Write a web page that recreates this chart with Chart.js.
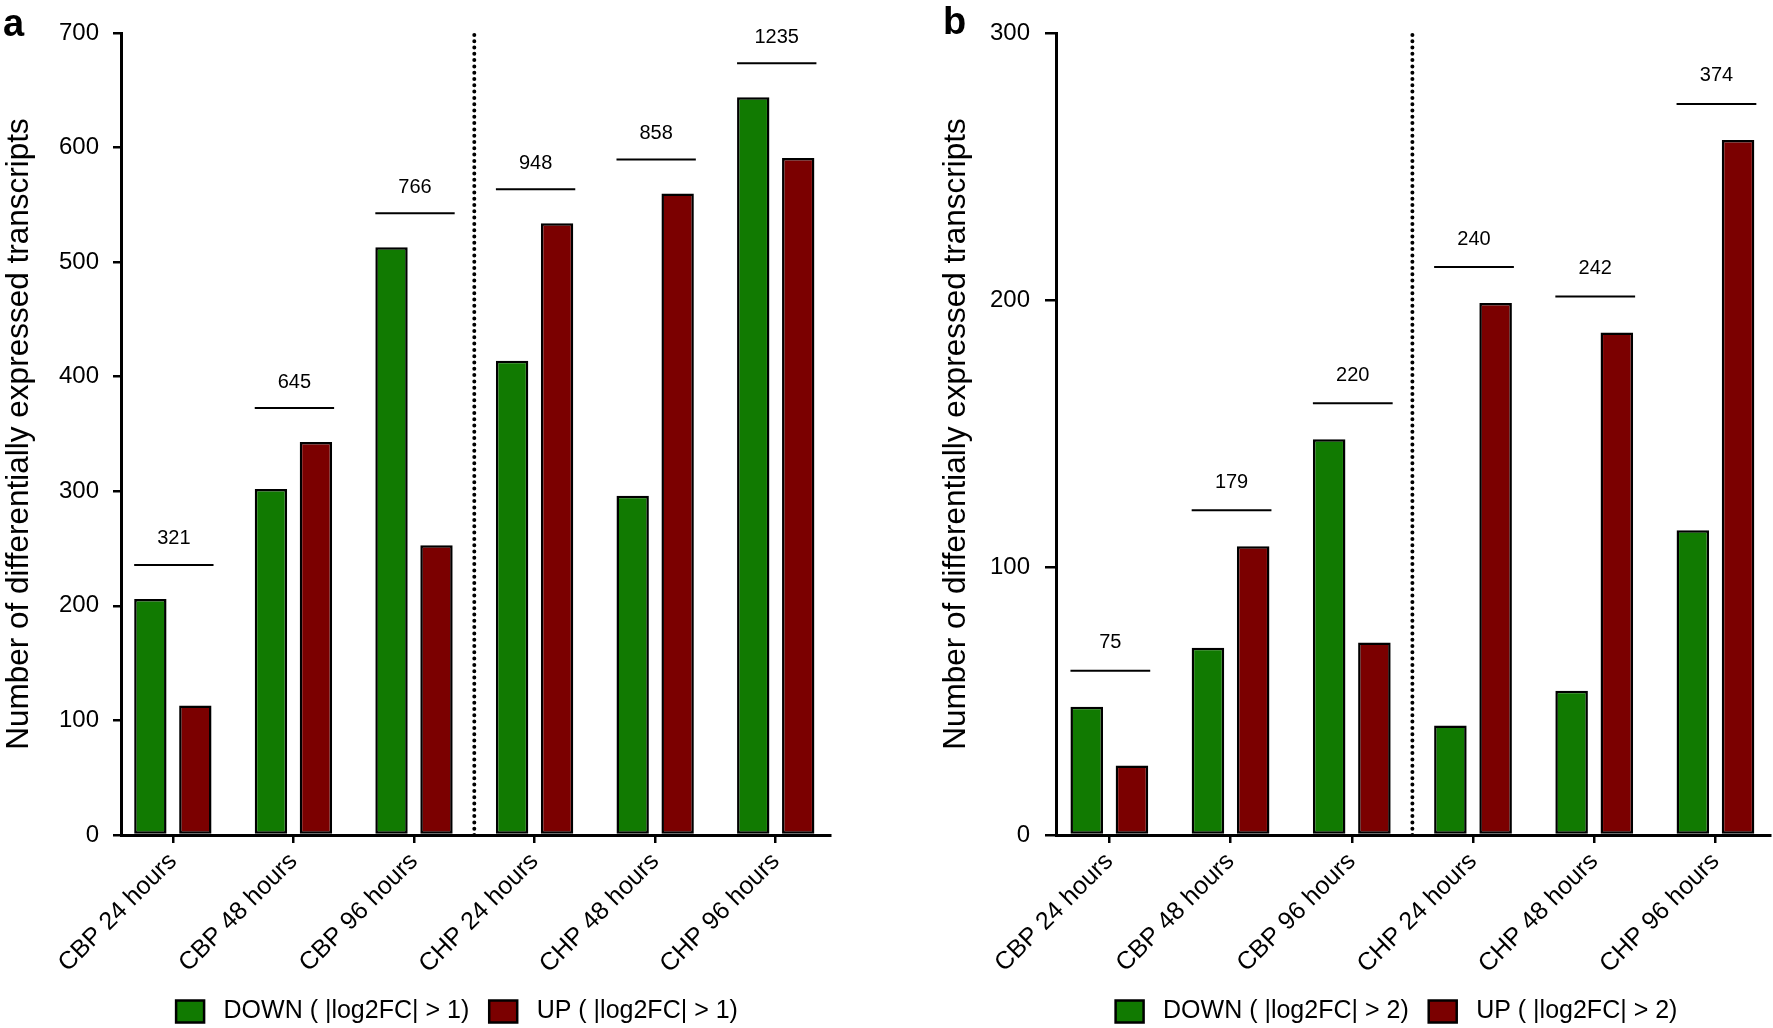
<!DOCTYPE html>
<html>
<head>
<meta charset="utf-8">
<title>Differentially expressed transcripts</title>
<script src="https://cdn.jsdelivr.net/npm/chart.js@4.4.1/dist/chart.umd.min.js"></script>
<style>
    html, body { margin: 0; padding: 0; background: #fff; overflow: hidden; }
    #wrap { position: relative; width: 1773px; height: 1028px; }
    .panel { position: absolute; top: 0; height: 1028px; }
    #panel-a { left: 0; width: 886px; }
    #panel-b { left: 886px; width: 887px; }
</style>
</head>
<body>
<div id="wrap">
    <div class="panel" id="panel-a"><canvas id="chart-a"></canvas></div>
    <div class="panel" id="panel-b"><canvas id="chart-b"></canvas></div>
</div>
<script>
// Data
const categories = ['CBP 24 hours', 'CBP 48 hours', 'CBP 96 hours', 'CHP 24 hours', 'CHP 48 hours', 'CHP 96 hours'];

// panel a: |log2FC| > 1
const downA = [206, 302, 513, 414, 296, 644];
const upA = [113, 343, 253, 534, 560, 591];
const totalsA = [321, 645, 766, 948, 858, 1235];

// panel b: |log2FC| > 2
const downB = [48, 70, 148, 41, 54, 114];
const upB = [26, 108, 72, 199, 188, 260];
const totalsB = [75, 179, 220, 240, 242, 374];

// dotted separator between CBP and CHP groups (between category 2 and 3)
const dividerAt = 2.5;

const FONT = '"Liberation Sans", Arial, Helvetica, sans-serif';
const GREEN = '#117a01';
const RED = '#7b0000';

// Draws the total brackets, the dotted divider and the panel letter
const groupAnnotations = {
    id: 'groupAnnotations',
    afterLayout(chart, args, o) {
        // nudge the legend so it sits where the original one does
        const lg = chart.legend;
        if (lg) {
            lg.left += o.legendDx; lg.right += o.legendDx;
            lg.top += o.legendDy; lg.bottom += o.legendDy;
        }
    },
    afterDatasetsDraw(chart, args, o) {
        const ctx = chart.ctx;
        const xs = chart.scales.x, ys = chart.scales.y;
        const m0 = chart.getDatasetMeta(0), m1 = chart.getDatasetMeta(1);
        ctx.save();
        ctx.strokeStyle = '#000';
        ctx.fillStyle = '#000';

        // dotted divider
        const dx = xs.getPixelForValue(dividerAt);
        ctx.beginPath();
        ctx.setLineDash([0, 6.3]);
        ctx.lineCap = 'round';
        ctx.lineWidth = 4;
        ctx.moveTo(dx, ys.bottom);
        ctx.lineTo(dx, ys.top);
        ctx.stroke();
        ctx.setLineDash([]);
        ctx.lineCap = 'butt';

        // brackets with totals
        ctx.font = '20px ' + FONT;
        ctx.textAlign = 'center';
        ctx.textBaseline = 'middle';
        o.totals.forEach((t, i) => {
            const a = m0.data[i], b = m1.data[i];
            const left = a.x - a.width / 2, right = b.x + b.width / 2 + 2;
            const ly = Math.min(a.y, b.y) - o.lineGap;
            ctx.lineWidth = 2;
            ctx.beginPath();
            ctx.moveTo(left, ly);
            ctx.lineTo(right, ly);
            ctx.stroke();
            ctx.fillText(String(t), (left + right) / 2, ly - o.labelGap);
        });

        // panel letter
        ctx.font = 'bold 38px ' + FONT;
        ctx.textAlign = 'left';
        ctx.textBaseline = 'alphabetic';
        ctx.fillText(o.letter, o.letterX, o.letterY);
        ctx.restore();
    }
};

function makeChart(canvasId, cfg) {
    const ctx = document.getElementById(canvasId).getContext('2d');
    return new Chart(ctx, {
        type: 'bar',
        data: {
            datasets: [
                {
                    label: cfg.downLabel,
                    data: cfg.down.map((v, i) => ({ x: i, y: v })),
                    backgroundColor: GREEN,
                    borderColor: '#000',
                    borderWidth: 2.5,
                    borderSkipped: false
                },
                {
                    label: cfg.upLabel,
                    data: cfg.up.map((v, i) => ({ x: i, y: v })),
                    backgroundColor: RED,
                    borderColor: '#000',
                    borderWidth: 2.5,
                    borderSkipped: false
                }
            ]
        },
        options: {
            responsive: true,
            maintainAspectRatio: false,
            animation: false,
            categoryPercentage: 0.746,
            barPercentage: 0.72,
            layout: { padding: cfg.padding },
            plugins: {
                tooltip: { enabled: false },
                legend: {
                    position: 'bottom',
                    labels: {
                        boxWidth: 28,
                        boxHeight: 22,
                        padding: 20,
                        color: '#000',
                        font: { size: 25, family: FONT }
                    }
                },
                groupAnnotations: {
                    totals: cfg.totals,
                    lineGap: cfg.lineGap,
                    labelGap: cfg.labelGap,
                    letter: cfg.letter,
                    letterX: cfg.letterX,
                    letterY: cfg.letterY,
                    legendDx: cfg.legendDx,
                    legendDy: cfg.legendDy
                }
            },
            scales: {
                x: {
                    type: 'linear',
                    min: cfg.xMin,
                    max: 5.45,
                    offset: false,
                    afterBuildTicks: (scale) => {
                        scale.ticks = categories.map((c, i) => ({ value: i }));
                    },
                    afterFit: (scale) => { scale.height = 138; },
                    border: { display: true, color: '#000', width: 3 },
                    grid: {
                        offset: false,
                        drawOnChartArea: false,
                        drawTicks: true,
                        tickLength: 8,
                        color: '#000',
                        lineWidth: 2.5
                    },
                    ticks: {
                        autoSkip: false,
                        minRotation: 45,
                        maxRotation: 45,
                        padding: 4,
                        color: '#000',
                        font: { size: 25, family: FONT },
                        callback: (v) => categories[v]
                    }
                },
                y: {
                    min: 0,
                    max: cfg.yMax,
                    afterFit: (scale) => { scale.width = cfg.yWidth; },
                    border: { display: true, color: '#000', width: 3 },
                    grid: {
                        drawOnChartArea: false,
                        drawTicks: true,
                        tickLength: cfg.yTickLength,
                        color: '#000',
                        lineWidth: 2.5
                    },
                    ticks: {
                        stepSize: 100,
                        padding: cfg.yTickPadding,
                        color: '#000',
                        font: { size: 24, family: FONT }
                    },
                    title: {
                        display: true,
                        text: 'Number of differentially expressed transcripts',
                        color: '#000',
                        padding: 0,
                        font: { size: 31.5, family: FONT }
                    }
                }
            }
        },
        plugins: [groupAnnotations]
    });
}

makeChart('chart-a', {
    down: downA, up: upA, totals: totalsA,
    downLabel: ' DOWN ( |log2FC| > 1)', upLabel: ' UP ( |log2FC| > 1)',
    yMax: 700, xMin: -0.43,
    padding: { left: 0, right: 56, top: 33, bottom: 0 },
    yWidth: 121, yTickLength: 8, yTickPadding: 14,
    lineGap: 34, labelGap: 26,
    letter: 'a', letterX: 3, letterY: 36,
    legendDx: 42, legendDy: 6
});

makeChart('chart-b', {
    down: downB, up: upB, totals: totalsB,
    downLabel: ' DOWN ( |log2FC| > 2)', upLabel: ' UP ( |log2FC| > 2)',
    yMax: 300, xMin: -0.44,
    padding: { left: 51, right: 3, top: 33, bottom: 0 },
    yWidth: 119, yTickLength: 11, yTickPadding: 15,
    lineGap: 36, labelGap: 28,
    letter: 'b', letterX: 57, letterY: 34,
    legendDx: 43, legendDy: 6
});
</script>
</body>
</html>
